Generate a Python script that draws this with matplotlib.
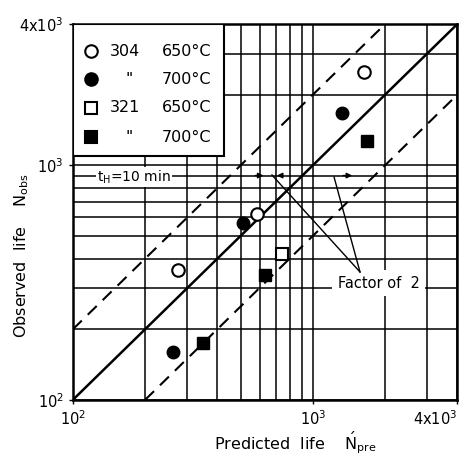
import numpy as np
import matplotlib
matplotlib.use("Agg")
import matplotlib.pyplot as plt
from matplotlib.patches import Rectangle

# data (predicted, observed)
pre_304_650 = [274, 586, 1640]
obs_304_650 = [358, 621, 2500]
pre_304_700 = [261, 512, 1325]
obs_304_700 = [160, 568, 1670]
pre_321_650 = [745]
obs_321_650 = [419]
pre_321_700 = [348, 632, 1686]
obs_321_700 = [175, 341, 1270]

legend_rows = [("o", "none", "304", "650°C"),
               ("o", "black", '"', "700°C"),
               ("s", "none", "321", "650°C"),
               ("s", "black", '"', "700°C")]

plt.rcParams['font.family'] = ['DejaVu Sans']

fig = plt.figure(figsize=(4.67, 4.57), dpi=100)
ax = fig.add_axes([0.156, 0.125, 0.823, 0.822])
ax.set_xscale('log')
ax.set_yscale('log')
ax.set_xlim(100, 4000)
ax.set_ylim(100, 4000)

ax.grid(which='both', color='black', lw=1.1)
ax.set_axisbelow(True)
for s in ax.spines.values():
    s.set_linewidth(1.8)

# 1:1 line and factor of 2 band
ax.plot([100, 4000], [100, 4000], color='black', lw=1.8, zorder=3)
ax.plot([100, 2000], [200, 4000], color='black', lw=1.5, ls=(0, (6, 4)), zorder=3)
ax.plot([200, 4000], [100, 2000], color='black', lw=1.5, ls=(0, (6, 4)), zorder=3)

ms = 9
ax.plot(pre_304_650, obs_304_650, 'o', ms=ms, mfc='white', mec='black', mew=1.5, zorder=5)
ax.plot(pre_304_700, obs_304_700, 'o', ms=ms, mfc='black', mec='black', zorder=5)
ax.plot(pre_321_650, obs_321_650, 's', ms=ms - 1, mfc='white', mec='black', mew=1.5, zorder=5)
ax.plot(pre_321_700, obs_321_700, 's', ms=ms - 1, mfc='black', mec='black', zorder=5)

# legend box drawn by hand
ax.add_patch(Rectangle((0, 0.649), 0.393, 0.351, transform=ax.transAxes,
                       facecolor='white', edgecolor='black', lw=1.5, zorder=6))
row_y = [0.928, 0.854, 0.777, 0.699]
for (mk, fc, grade, temp), yy in zip(legend_rows, row_y):
    ax.plot(0.047, yy, mk, ms=ms - 1 if mk == 's' else ms,
            mfc='white' if fc == 'none' else fc, mec='black', mew=1.5,
            transform=ax.transAxes, zorder=7, clip_on=False)
    ax.text(0.096 if grade != '"' else 0.138, yy, grade, transform=ax.transAxes,
            fontsize=11.5, va='center', ha='left', zorder=7)
    ax.text(0.232, yy, temp, transform=ax.transAxes,
            fontsize=11.5, va='center', ha='left', zorder=7)

# hold time annotation
ax.text(180, 890, r'$\mathregular{t_H}$=10 min', fontsize=10, ha='center', va='center',
        bbox=dict(facecolor='white', edgecolor='none', pad=1), zorder=4)
for x0, x1 in [(560, 640), (760, 690), (1300, 1500)]:
    ax.annotate('', xy=(x1, 905), xytext=(x0, 905),
                arrowprops=dict(arrowstyle='-|>', color='black', lw=1, mutation_scale=8),
                zorder=4)

# factor of 2 annotation
ax.text(1880, 315, 'Factor of  2', fontsize=10.5, ha='center', va='center',
        bbox=dict(facecolor='white', edgecolor='none', pad=4), zorder=4)
ax.plot([1574, 676], [351, 910], color='black', lw=1, zorder=4)
ax.plot([1574, 1227], [351, 891], color='black', lw=1, zorder=4)

ax.set_xticks([100, 1000, 4000])
ax.set_xticklabels([r'$10^2$', r'$10^3$', r'4x$10^3$'])
ax.set_yticks([100, 1000, 4000])
ax.set_yticklabels([r'$10^2$', r'$10^3$', r'4x$10^3$'])
ax.tick_params(which='major', labelsize=10.5, length=3, width=1, direction='out')
ax.tick_params(which='minor', length=0)
ax.get_xticklabels()[-1].set_ha('right')

fig.text(295 / 467, 1 - 443 / 457, r'Predicted  life    $\mathrm{\acute{N}_{pre}}$',
         fontsize=11.5, ha='center', va='center')
fig.text(22 / 467, 1 - 255 / 457, r'Observed  life    $\mathrm{N_{obs}}$',
         fontsize=11.5, ha='center', va='center', rotation=90)

fig.savefig('out.png', dpi=100)
